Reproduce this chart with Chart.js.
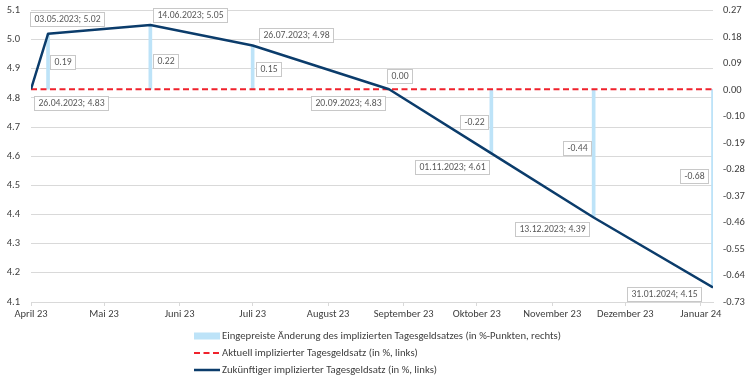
<!DOCTYPE html>
<html><head><meta charset="utf-8">
<script src="https://cdn.jsdelivr.net/npm/chart.js@4.4.1/dist/chart.umd.min.js"></script>
<style>html,body{margin:0;padding:0;background:#fff}#wrap{width:756px;height:380px;position:relative}</style>
</head><body><div id="wrap"><canvas id="c" width="756" height="380"></canvas></div>
<script>
// ---- data ----
const dates = ['26.04.2023','03.05.2023','14.06.2023','26.07.2023','20.09.2023','01.11.2023','13.12.2023','31.01.2024'];
const futureRate = [4.83, 5.02, 5.05, 4.98, 4.83, 4.61, 4.39, 4.15];
const currentRate = [4.83, 4.83, 4.83, 4.83, 4.83, 4.83, 4.83, 4.83];
const pricedChange = [null, 0.19, 0.22, 0.15, 0.00, -0.22, -0.44, -0.68];
const xTickDates = ['26.04.2023','26.05.2023','26.06.2023','26.07.2023','26.08.2023','26.09.2023','26.10.2023','26.11.2023','26.12.2023','26.01.2024'];
const xTickLabels = ['April 23','Mai 23','Juni 23','Juli 23','August 23','September 23','Oktober 23','November 23','Dezember 23','Januar 24'];
const leftMin = 4.1, leftMax = 5.1, leftStep = 0.1;
const rightMin = -0.73, rightMax = 0.27;
const rightTickLabels = ['0.27','0.18','0.09','0.00','-0.10','-0.19','-0.28','-0.37','-0.46','-0.55','-0.64','-0.73'];
const seriesNames = [
  'Eingepreiste Änderung des implizierten Tagesgeldsatzes (in %-Punkten, rechts)',
  'Aktuell implizierter Tagesgeldsatz (in %, links)',
  'Zukünftiger implizierter Tagesgeldsatz (in %, links)'
];

// ---- label placement (style, not data) ----
const lineLabelOffsets = [[40,14],[19,-15],[40,-10.5],[43,-10],[-41,14],[-39,14],[-42,11.5],[-49,6.5]];
const barLabelOffsets = [null,[14,0],[15,4.3],[16,2],[10,-13.6],[-17,0.5],[-17,-5],[-19,-12]];

const FONT = "Carlito, 'Liberation Sans Narrow', 'Open Sans', sans-serif";
const COL_BAR = '#bde3f8', COL_RED = '#f0222c', COL_BLUE = '#0b3c6b';

const toDay = s => { const [d,m,y] = s.split('.').map(Number); return Date.UTC(y, m-1, d) / 86400000; };
const xs = dates.map(toDay);

function drawBox(ctx, text, cx, cy) {
  const w = Math.round(ctx.measureText(text).width + 8), h = 14;
  const x = Math.round(cx - w/2) + 0.5, y = Math.round(cy - h/2) + 0.5;
  ctx.fillStyle = '#fff';
  ctx.fillRect(x, y, w, h);
  ctx.strokeStyle = '#c8c8c8';
  ctx.lineWidth = 1;
  ctx.strokeRect(x, y, w, h);
  ctx.fillStyle = '#595959';
  ctx.textAlign = 'center';
  ctx.textBaseline = 'middle';
  ctx.fillText(text, x + w/2, y + h/2 + 0.5);
}

const labelPlugin = {
  id: 'boxLabels',
  afterDatasetsDraw(chart) {
    const ctx = chart.ctx;
    ctx.save();
    ctx.font = '9.7px ' + FONT;
    const barMeta = chart.getDatasetMeta(0);
    barMeta.data.forEach((bar, i) => {
      if (pricedChange[i] == null) return;
      const mid = (bar.y + bar.base) / 2;
      drawBox(ctx, pricedChange[i].toFixed(2), bar.x + barLabelOffsets[i][0], mid + barLabelOffsets[i][1]);
    });
    const lineMeta = chart.getDatasetMeta(2);
    lineMeta.data.forEach((pt, i) => {
      const text = dates[i] + '; ' + futureRate[i].toFixed(2);
      drawBox(ctx, text, pt.x + lineLabelOffsets[i][0], pt.y + lineLabelOffsets[i][1]);
    });
    ctx.restore();
  },
  afterDraw(chart) {
    const ctx = chart.ctx;
    ctx.save();
    ctx.font = '10.7px ' + FONT;
    const symW = 26, gap = 2;
    const maxText = Math.max(...seriesNames.map(s => ctx.measureText(s).width));
    const blockW = symW + gap + maxText;
    const x0 = Math.round(chart.width / 2 - blockW / 2);
    const rows = [336, 353, 370];
    rows.forEach((cy, i) => {
      if (i === 0) {
        ctx.fillStyle = COL_BAR;
        ctx.fillRect(x0, cy - 3.5, symW, 7);
      } else {
        ctx.beginPath();
        ctx.lineWidth = i === 1 ? 2 : 2.5;
        ctx.strokeStyle = i === 1 ? COL_RED : COL_BLUE;
        ctx.setLineDash(i === 1 ? [6, 3.5] : []);
        ctx.moveTo(x0, cy);
        ctx.lineTo(x0 + symW, cy);
        ctx.stroke();
        ctx.setLineDash([]);
      }
      ctx.fillStyle = '#404040';
      ctx.textAlign = 'left';
      ctx.textBaseline = 'middle';
      ctx.fillText(seriesNames[i], x0 + symW + gap, cy);
    });
    ctx.restore();
  }
};

new Chart(document.getElementById('c'), {
  data: {
    datasets: [
      { type: 'bar', label: seriesNames[0], yAxisID: 'y1', order: 3,
        data: xs.map((x, i) => ({ x, y: pricedChange[i] })),
        backgroundColor: COL_BAR, barThickness: 3 },
      { type: 'line', label: seriesNames[1], yAxisID: 'y', order: 2,
        data: xs.map((x, i) => ({ x, y: currentRate[i] })),
        borderColor: COL_RED, borderDash: [6, 3.5], borderWidth: 2, pointRadius: 0, fill: false },
      { type: 'line', label: seriesNames[2], yAxisID: 'y', order: 1,
        data: xs.map((x, i) => ({ x, y: futureRate[i] })),
        borderColor: COL_BLUE, borderWidth: 2.5, pointRadius: 0, fill: false, borderJoinStyle: 'round' }
    ]
  },
  options: {
    responsive: false, animation: false,
    layout: { padding: { left: 4, right: 0, top: 10.5, bottom: 58 } },
    plugins: { legend: { display: false }, tooltip: { enabled: false } },
    scales: {
      x: {
        type: 'linear', min: xs[0], max: xs[xs.length - 1], offset: false,
        afterBuildTicks: s => { s.ticks = xTickDates.map(d => ({ value: toDay(d) })); },
        afterFit: s => { s.height = 20; s.paddingLeft = 0; s.paddingRight = 0; },
        ticks: { autoSkip: false, maxRotation: 0, color: '#404040', padding: 2,
          font: { family: FONT, size: 10.5 },
          callback: (v, i) => xTickLabels[i] },
        grid: { drawOnChartArea: false, tickLength: 4, color: '#d9d9d9', offset: false },
        border: { color: '#d9d9d9' }
      },
      y: {
        position: 'left', min: leftMin, max: leftMax,
        afterFit: s => { s.width = 27; s.paddingTop = 0; s.paddingBottom = 0; },
        ticks: { stepSize: leftStep, color: '#404040', padding: 11,
          font: { family: FONT, size: 10.5 },
          callback: v => Number(v).toFixed(1) },
        grid: { color: '#d9d9d9', drawTicks: false },
        border: { display: false }
      },
      y1: {
        position: 'right', min: rightMin, max: rightMax,
        afterFit: s => { s.width = 43; s.paddingTop = 0; s.paddingBottom = 0; },
        afterBuildTicks: s => {
          const n = rightTickLabels.length - 1;
          s.ticks = rightTickLabels.map((_, i) => ({ value: rightMax - i * (rightMax - rightMin) / n }));
        },
        ticks: { color: '#404040', padding: 10, font: { family: FONT, size: 10.5 },
          callback: (v, i) => rightTickLabels[i] },
        grid: { display: false, drawTicks: false },
        border: { display: false }
      }
    }
  },
  plugins: [labelPlugin]
});
</script>
</body></html>
